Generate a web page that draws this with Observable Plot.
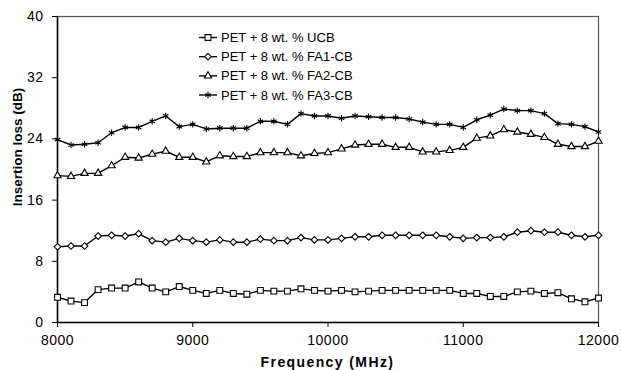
<!DOCTYPE html>
<html>
<head>
<meta charset="utf-8">
<script src="https://cdn.jsdelivr.net/npm/d3@7"></script>
<script src="https://cdn.jsdelivr.net/npm/@observablehq/plot@0.6"></script>
<style>
  html, body { margin: 0; padding: 0; background: #fff; }
  #chart { width: 621px; height: 370px; }
  svg { font-family: "Liberation Sans", Arial, sans-serif; }
</style>
</head>
<body>
<div id="chart"></div>
<script>
const freq = [8000, 8100, 8200, 8300, 8400, 8500, 8600, 8700, 8800, 8900,
  9000, 9100, 9200, 9300, 9400, 9500, 9600, 9700, 9800, 9900,
  10000, 10100, 10200, 10300, 10400, 10500, 10600, 10700, 10800, 10900,
  11000, 11100, 11200, 11300, 11400, 11500, 11600, 11700, 11800, 11900, 12000];

const seriesNames = ["PET + 8 wt. % UCB", "PET + 8 wt. % FA1-CB", "PET + 8 wt. % FA2-CB", "PET + 8 wt. % FA3-CB"];

const ucb = [3.3, 2.8, 2.6, 4.3, 4.5, 4.5, 5.3, 4.5, 4.0, 4.7, 4.2, 3.8, 4.2, 3.8, 3.7, 4.2, 4.1, 4.1, 4.4, 4.2,
  4.1, 4.2, 4.0, 4.1, 4.2, 4.2, 4.2, 4.2, 4.2, 4.2, 3.8, 3.8, 3.4, 3.4, 4.0, 4.1, 3.8, 3.9, 3.1, 2.7, 3.2];
const fa1 = [9.9, 10.0, 10.0, 11.3, 11.4, 11.3, 11.6, 10.7, 10.5, 11.0, 10.7, 10.5, 10.8, 10.5, 10.5, 10.9, 10.7, 10.7, 11.1, 10.8,
  10.8, 11.0, 11.2, 11.2, 11.4, 11.4, 11.4, 11.4, 11.4, 11.2, 11.0, 11.1, 11.1, 11.2, 11.8, 12.0, 11.8, 11.8, 11.4, 11.2, 11.4];
const fa2 = [19.2, 19.1, 19.5, 19.5, 20.5, 21.6, 21.5, 22.0, 22.4, 21.6, 21.6, 21.0, 21.8, 21.7, 21.7, 22.2, 22.2, 22.2, 21.8, 22.1,
  22.2, 22.7, 23.2, 23.3, 23.3, 22.9, 22.9, 22.3, 22.3, 22.5, 22.9, 24.1, 24.4, 25.2, 24.9, 24.6, 24.2, 23.3, 23.0, 23.0, 23.7];
const fa3 = [23.9, 23.2, 23.3, 23.5, 24.8, 25.5, 25.5, 26.3, 27.0, 25.6, 25.9, 25.3, 25.4, 25.4, 25.4, 26.3, 26.3, 25.9, 27.3, 27.0,
  27.0, 26.7, 27.0, 26.9, 26.8, 26.8, 26.6, 26.2, 25.9, 25.9, 25.5, 26.5, 27.1, 27.9, 27.7, 27.7, 27.3, 26.0, 25.9, 25.6, 24.9];

const xTicks = [8000, 9000, 10000, 11000, 12000];
const yTicks = [0, 8, 16, 24, 32, 40];
const xTitle = "Frequency (MHz)";
const yTitle = "Insertion loss (dB)";

const symbols = ["square", "diamond2", "triangle", "asterisk"];
const symbolR = [3.3, 3.0, 2.7, 3.0];
const allValues = [ucb, fa1, fa2, fa3];

const data = [];
seriesNames.forEach((name, k) => {
  allValues[k].forEach((v, i) => data.push({series: name, k, x: freq[i], y: v}));
});

const marks = [
  Plot.frame({stroke: "#555", strokeWidth: 1.2}),
  Plot.axisX({ticks: xTicks, tickFormat: d => String(d), tickSize: 5, tickPadding: 8, label: null, fontSize: 14}),
  Plot.axisY({ticks: yTicks, tickSize: 5, tickPadding: 9, label: null, fontSize: 14}),
  Plot.ruleX([8000], {stroke: "#000", strokeWidth: 1.5}),
  Plot.ruleY([0], {stroke: "#000", strokeWidth: 1.5}),
  Plot.line(data, {x: "x", y: "y", z: "series", stroke: "#000", strokeWidth: 1.4})
];
seriesNames.forEach((name, k) => {
  marks.push(Plot.dot(data.filter(d => d.k === k), {
    x: "x", y: "y", symbol: () => symbols[k], r: symbolR[k],
    fill: "#fff", stroke: "#000", strokeWidth: 1.1
  }));
});

const chart = Plot.plot({
  width: 621,
  height: 370,
  marginLeft: 57,
  marginRight: 23,
  marginTop: 16,
  marginBottom: 48,
  style: {fontFamily: "'Liberation Sans', Arial, sans-serif", color: "#000", background: "#fff"},
  x: {domain: [8000, 12000]},
  y: {domain: [0, 40]},
  symbol: {type: "identity"},
  marks
});
document.getElementById("chart").appendChild(chart);

const svg = d3.select(chart);
svg.selectAll("[aria-label='x-axis tick label'] text, [aria-label='y-axis tick label'] text")
  .attr("letter-spacing", "0.5px");

// axis titles
svg.append("text")
  .attr("x", 327.5).attr("y", 367)
  .attr("text-anchor", "middle")
  .attr("font-weight", "bold").attr("font-size", 14).attr("letter-spacing", "1.4px")
  .attr("fill", "#000")
  .text(xTitle);
svg.append("text")
  .attr("transform", "translate(22,147) rotate(-90)")
  .attr("text-anchor", "middle")
  .attr("font-weight", "bold").attr("font-size", 13.5)
  .attr("fill", "#000")
  .text(yTitle);

// legend
const legendY = [37.5, 56.7, 75.9, 95];
const lg = svg.append("g").attr("text-anchor", "start");
const symMap = {square: d3.symbolSquare, diamond2: d3.symbolDiamond2, triangle: d3.symbolTriangle, asterisk: d3.symbolAsterisk};
seriesNames.forEach((name, k) => {
  const yy = legendY[k];
  lg.append("line").attr("x1", 199).attr("x2", 217).attr("y1", yy).attr("y2", yy)
    .attr("stroke", "#000").attr("stroke-width", 1.4);
  lg.append("path")
    .attr("d", d3.symbol(symMap[symbols[k]], symbolR[k] * symbolR[k] * Math.PI)())
    .attr("transform", `translate(208,${yy})`)
    .attr("fill", "#fff").attr("stroke", "#000").attr("stroke-width", 1.1);
  lg.append("text").attr("x", 221).attr("y", yy).attr("dy", "0.35em")
    .attr("text-anchor", "start")
    .attr("font-size", 13).attr("fill", "#000")
    .text(name);
});
</script>
</body>
</html>
